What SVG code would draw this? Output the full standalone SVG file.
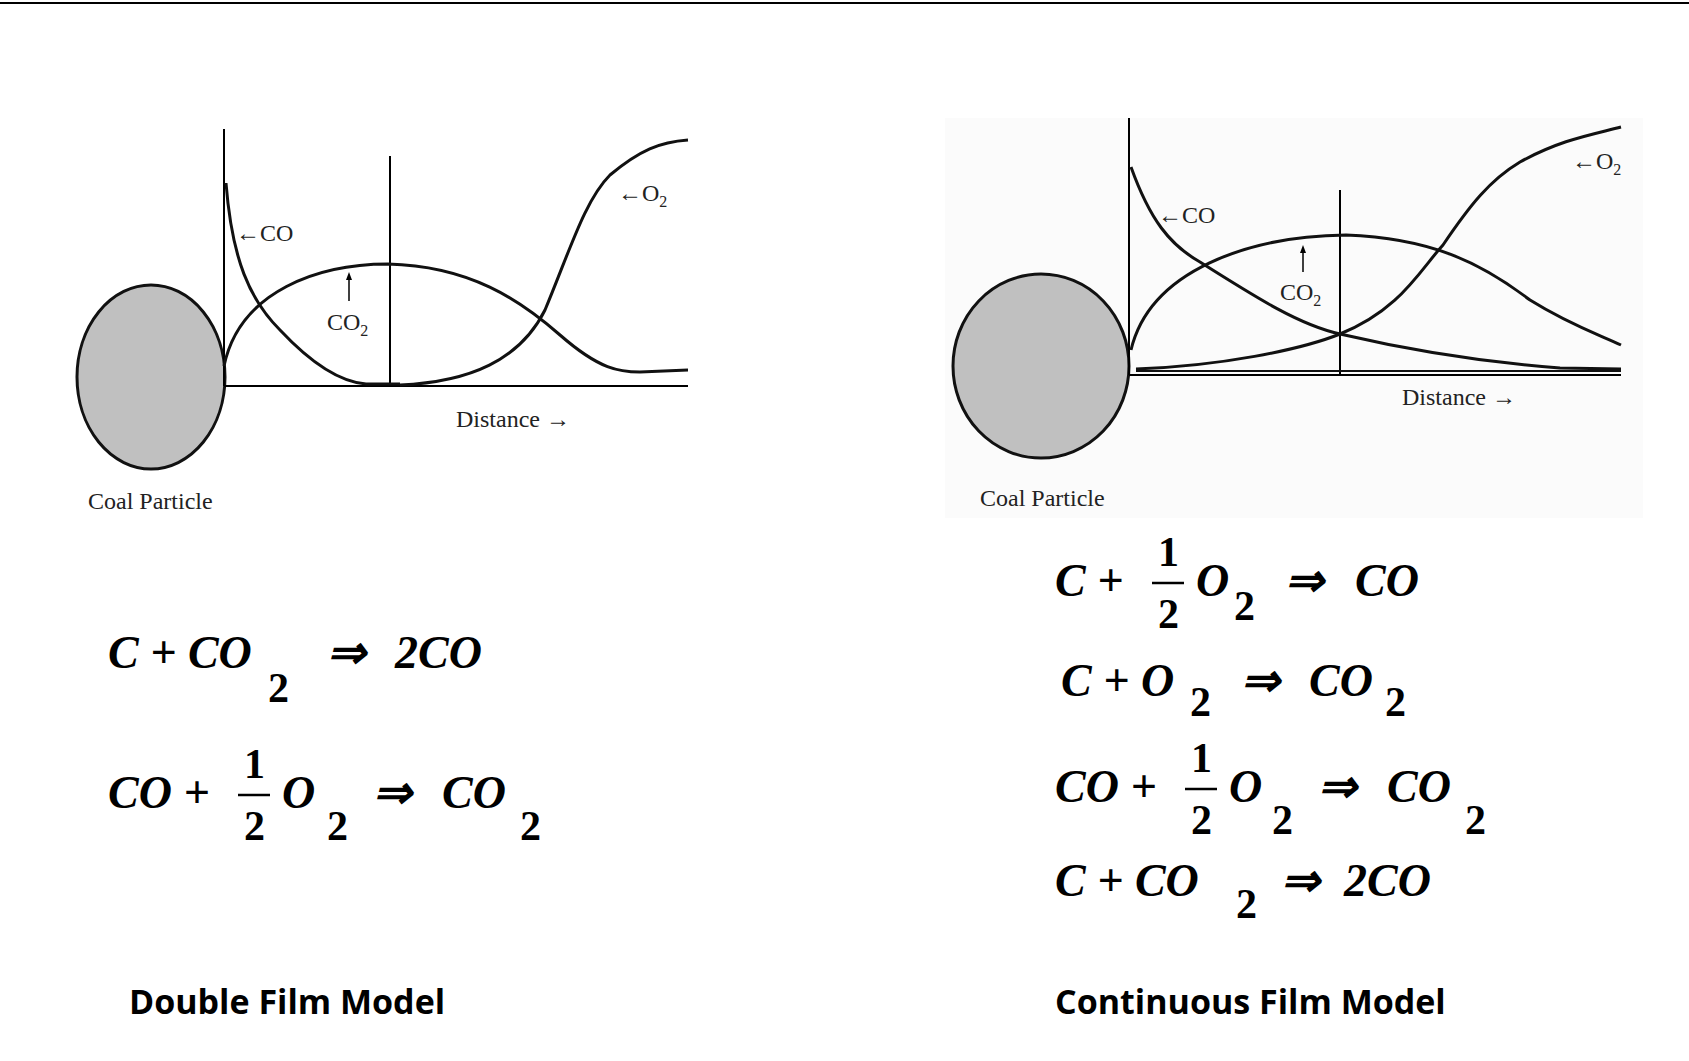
<svg xmlns="http://www.w3.org/2000/svg" width="1689" height="1061" viewBox="0 0 1689 1061">
<style>
.ax{stroke:#000;stroke-width:2;fill:none}
.cv{stroke:#111;stroke-width:3;fill:none}
.lb{font-family:"Liberation Serif",serif;font-size:24px;fill:#222}
.eq{font-family:"Liberation Serif",serif;font-size:46px;font-style:italic;font-weight:bold;fill:#000}
.num{font-family:"Liberation Serif",serif;font-size:42px;font-weight:bold;fill:#000}
.ttl{font-family:"Open Sans","Liberation Sans",sans-serif;font-size:34px;font-weight:bold;fill:#000}
</style>
<line x1="0" y1="3" x2="1689" y2="3" stroke="#000" stroke-width="2"/>
<g id="left-graph">
<ellipse cx="151" cy="377" rx="74" ry="92" fill="#c0c0c0" stroke="#111" stroke-width="3"/>
<line class="ax" x1="224" y1="129" x2="224" y2="386"/>
<line class="ax" x1="224" y1="386" x2="688" y2="386" stroke-width="3"/>
<line class="ax" x1="390" y1="156" x2="390" y2="386"/>
<path class="cv" d="M226,183 C232,260 250,300 280,330 C310,362 340,382 366,384 L400,384"/>
<path class="cv" d="M224,366 C240,290 320,264 388,264 C470,266 520,300 560,335 C600,370 620,372 640,372 L688,370"/>
<path class="cv" d="M400,385 C470,382 520,360 545,310 C570,250 585,200 610,175 C640,150 660,142 688,140"/>
<text class="lb" x="236" y="241">←CO</text>
<line x1="349" y1="301" x2="349" y2="275" stroke="#000" stroke-width="1.5"/>
<path d="M349,272 l-3,8 h6z" fill="#000"/>
<text class="lb" x="327" y="330">CO<tspan font-size="16" dy="6">2</tspan></text>
<text class="lb" x="618" y="201">←O<tspan font-size="16" dy="6">2</tspan></text>
<text class="lb" x="456" y="427">Distance →</text>
<text class="lb" x="88" y="509">Coal Particle</text>
</g>
<g id="right-graph">
<rect x="945" y="118" width="698" height="400" fill="#fbfbfb"/>
<ellipse cx="1041" cy="366" rx="88" ry="92" fill="#c0c0c0" stroke="#111" stroke-width="3"/>
<line class="ax" x1="1129" y1="118" x2="1129" y2="375"/>
<line class="ax" x1="1129" y1="375" x2="1621" y2="375" stroke-width="3"/>
<line class="ax" x1="1340" y1="190" x2="1340" y2="375"/>
<path class="cv" d="M1131,167 C1150,220 1170,245 1200,262 C1260,300 1300,325 1340,334 C1400,348 1480,362 1560,368 L1621,369"/>
<path class="cv" d="M1131,350 C1150,270 1250,236 1346,235 C1430,238 1480,262 1530,300 C1570,325 1600,335 1621,345"/>
<path class="cv" d="M1136,369 C1220,366 1300,350 1340,334 C1400,310 1420,270 1443,245 C1470,205 1490,180 1520,162 C1560,140 1590,135 1621,127"/>
<line x1="1136" y1="371" x2="1621" y2="371" stroke="#111" stroke-width="2"/>
<text class="lb" x="1158" y="223">←CO</text>
<line x1="1303" y1="272" x2="1303" y2="248" stroke="#000" stroke-width="1.5"/>
<path d="M1303,245 l-3,8 h6z" fill="#000"/>
<text class="lb" x="1280" y="300">CO<tspan font-size="16" dy="6">2</tspan></text>
<text class="lb" x="1572" y="169">←O<tspan font-size="16" dy="6">2</tspan></text>
<text class="lb" x="1402" y="405">Distance →</text>
<text class="lb" x="980" y="506">Coal Particle</text>
</g>
<g id="left-equations">
<text class="eq" x="108" y="668">C + CO</text>
<text class="num" x="268" y="702">2</text>
<text class="eq" x="327" y="668" font-style="normal">⇒</text>
<text class="eq" x="395" y="668">2CO</text>
<text class="eq" x="108" y="808">CO +</text>
<text class="num" x="244" y="778">1</text>
<line x1="238" y1="795" x2="270" y2="795" stroke="#000" stroke-width="2.5"/>
<text class="num" x="244" y="840">2</text>
<text class="eq" x="282" y="808">O</text>
<text class="num" x="327" y="840">2</text>
<text class="eq" x="373" y="808" font-style="normal">⇒</text>
<text class="eq" x="442" y="808">CO</text>
<text class="num" x="520" y="840">2</text>
</g>
<g id="right-equations">
<text class="eq" x="1055" y="596">C +</text>
<text class="num" x="1158" y="566">1</text>
<line x1="1152" y1="583" x2="1184" y2="583" stroke="#000" stroke-width="2.5"/>
<text class="num" x="1158" y="628">2</text>
<text class="eq" x="1196" y="596">O</text>
<text class="num" x="1234" y="620">2</text>
<text class="eq" x="1285" y="596" font-style="normal">⇒</text>
<text class="eq" x="1355" y="596">CO</text>
<text class="eq" x="1061" y="696">C + O</text>
<text class="num" x="1190" y="716">2</text>
<text class="eq" x="1241" y="696" font-style="normal">⇒</text>
<text class="eq" x="1309" y="696">CO</text>
<text class="num" x="1385" y="716">2</text>
<text class="eq" x="1055" y="802">CO +</text>
<text class="num" x="1191" y="772">1</text>
<line x1="1185" y1="789" x2="1217" y2="789" stroke="#000" stroke-width="2.5"/>
<text class="num" x="1191" y="834">2</text>
<text class="eq" x="1229" y="802">O</text>
<text class="num" x="1272" y="834">2</text>
<text class="eq" x="1318" y="802" font-style="normal">⇒</text>
<text class="eq" x="1387" y="802">CO</text>
<text class="num" x="1465" y="834">2</text>
<text class="eq" x="1055" y="896">C + CO</text>
<text class="num" x="1236" y="918">2</text>
<text class="eq" x="1281" y="896" font-style="normal">⇒</text>
<text class="eq" x="1344" y="896">2CO</text>
</g>
<g id="titles">
<text class="ttl" x="129" y="1014">Double Film Model</text>
<text class="ttl" x="1055" y="1014">Continuous Film Model</text>
</g>
</svg>
